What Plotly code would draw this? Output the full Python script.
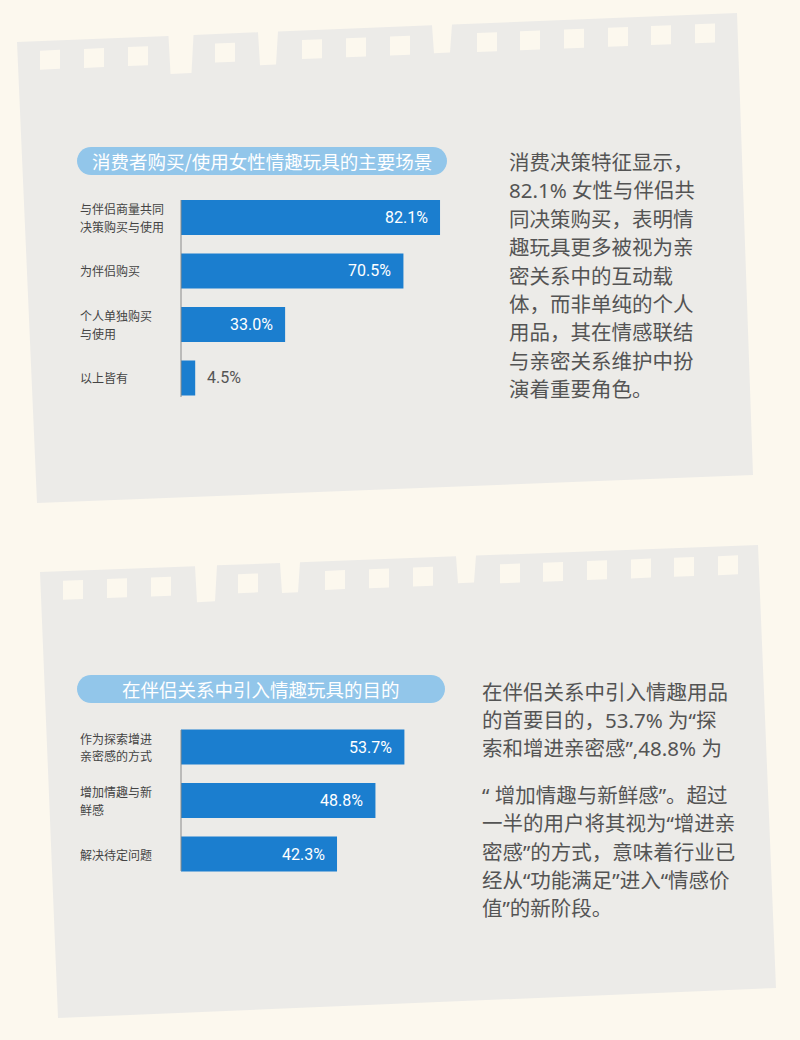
import math
import plotly.graph_objects as go

# ---------------- data ----------------
cats1 = ["与伴侣商量共同决策购买与使用", "为伴侣购买", "个人单独购买与使用", "以上皆有"]
labels1 = ["与伴侣商量共同<br>决策购买与使用", "为伴侣购买", "个人单独购买<br>与使用", "以上皆有"]
vals1 = [82.1, 70.5, 33.0, 4.5]
title1 = "消费者购买/使用女性情趣玩具的主要场景"

cats2 = ["作为探索增进亲密感的方式", "增加情趣与新鲜感", "解决待定问题"]
labels2 = ["作为探索增进<br>亲密感的方式", "增加情趣与新<br>鲜感", "解决待定问题"]
vals2 = [53.7, 48.8, 42.3]
title2 = "在伴侣关系中引入情趣玩具的目的"

para1 = [
    "消费决策特征显示，",
    "82.1% 女性与伴侣共",
    "同决策购买，表明情",
    "趣玩具更多被视为亲",
    "密关系中的互动载",
    "体，而非单纯的个人",
    "用品，其在情感联结",
    "与亲密关系维护中扮",
    "演着重要角色。",
]
para2 = [
    "在伴侣关系中引入情趣用品",
    "的首要目的，53.7% 为“探",
    "索和增进亲密感”,48.8% 为",
    "“ 增加情趣与新鲜感”。超过",
    "一半的用户将其视为“增进亲",
    "密感”的方式，意味着行业已",
    "经从“功能满足”进入“情感价",
    "值”的新阶段。",
]

# ---------------- style ----------------
W, H = 800, 1040
BG = "#FCF8EE"
PAPER = "#ECEBE8"
BAR = "#1B7ECF"
PILL = "#92C6EA"
FONT = "Noto Sans CJK SC"
PFONT = "Noto Sans, Noto Sans CJK SC"
NUMFONT = "Roboto"


def px(x):
    return x / W


def py(y):
    return 1 - y / H


def path(points):
    return "M " + " L ".join(f"{px(x):.5f},{py(y):.5f}" for x, y in points) + " Z"


def paper_shape(tl, tr, br, bl, notches):
    def ytop(x):
        return tl[1] + (tr[1] - tl[1]) * (x - tl[0]) / (tr[0] - tl[0])
    pts = [tl]
    for cx, w, d in notches:
        x0, x1 = cx - w / 2, cx + w / 2
        pts += [(x0, ytop(x0)), (x0 + 2, ytop(x0) + d), (x1 - 2, ytop(x1) + d), (x1, ytop(x1))]
    pts += [tr, br, bl]
    return path(pts), ytop


def pill(x0, x1, y0, y1, n=16):
    r = (y1 - y0) / 2
    cy = (y0 + y1) / 2
    pts = []
    for i in range(n + 1):
        a = -math.pi / 2 + math.pi * i / n
        pts.append((x1 - r + r * math.cos(a), cy + r * math.sin(a)))
    for i in range(n + 1):
        a = math.pi / 2 + math.pi * i / n
        pts.append((x0 + r + r * math.cos(a), cy + r * math.sin(a)))
    return path(pts)


shapes = []

# paper 1
p1, ytop1 = paper_shape((17, 42), (737, 13), (753, 475), (37, 503),
                        [(181, 25, 38), (268, 20, 33), (442, 20, 28)])
shapes.append(dict(type="path", path=p1, xref="paper", yref="paper",
                   fillcolor=PAPER, line=dict(width=0), layer="below"))
for cx in [50, 94, 138, 225, 312, 356, 400, 487, 530, 574, 618, 661, 705]:
    yt = ytop1(cx)
    shapes.append(dict(type="path", path=path([(cx - 10, yt + 10), (cx + 10, yt + 9.2),
                                               (cx + 10, yt + 28.2), (cx - 10, yt + 29)]),
                       xref="paper", yref="paper", fillcolor=BG, line=dict(width=0), layer="below"))

# paper 2
p2, ytop2 = paper_shape((40, 572), (758, 545), (776, 988), (58, 1018),
                        [(206, 22, 36), (290, 20, 30), (466, 20, 27)])
shapes.append(dict(type="path", path=p2, xref="paper", yref="paper",
                   fillcolor=PAPER, line=dict(width=0), layer="below"))
for cx in [73, 117, 161, 248, 335, 379, 423, 510, 553, 597, 641, 684, 728]:
    yt = ytop2(cx)
    shapes.append(dict(type="path", path=path([(cx - 10, yt + 10), (cx + 10, yt + 9.2),
                                               (cx + 10, yt + 28.2), (cx - 10, yt + 29)]),
                       xref="paper", yref="paper", fillcolor=BG, line=dict(width=0), layer="below"))

# title pills
shapes.append(dict(type="path", path=pill(77, 447, 147, 175), xref="paper", yref="paper",
                   fillcolor=PILL, line=dict(width=0), layer="below"))
shapes.append(dict(type="path", path=pill(77, 445, 675, 703), xref="paper", yref="paper",
                   fillcolor=PILL, line=dict(width=0), layer="below"))

# axis lines
shapes.append(dict(type="line", xref="paper", yref="y", x0=px(181), x1=px(181),
                   y0=-0.327, y1=3.355, line=dict(color="#8a8a8a", width=1)))
shapes.append(dict(type="line", xref="paper", yref="y2", x0=px(181), x1=px(181),
                   y0=-0.318, y1=2.318, line=dict(color="#8a8a8a", width=1)))

fig = go.Figure()
fig.add_trace(go.Bar(x=vals1, y=cats1, orientation="h", marker=dict(color=BAR, line=dict(width=0)),
                     width=0.65, xaxis="x", yaxis="y", hoverinfo="skip"))
fig.add_trace(go.Bar(x=vals2, y=cats2, orientation="h", marker=dict(color=BAR, line=dict(width=0)),
                     width=0.65, xaxis="x2", yaxis="y2", hoverinfo="skip"))

annotations = []
# titles
annotations.append(dict(text=title1, xref="paper", yref="paper", x=px(262), y=py(161),
                        xanchor="center", yanchor="middle", showarrow=False,
                        font=dict(family=FONT, size=18.5, color="white")))
annotations.append(dict(text=title2, xref="paper", yref="paper", x=px(261), y=py(689),
                        xanchor="center", yanchor="middle", showarrow=False,
                        font=dict(family=FONT, size=18.5, color="white")))

LABEL_STEP = 17.5
for cats, labels, vals, xa, ya in [(cats1, labels1, vals1, "x", "y"), (cats2, labels2, vals2, "x2", "y2")]:
    for c, lab, v in zip(cats, labels, vals):
        parts = lab.split("<br>")
        n = len(parts)
        for i, part in enumerate(parts):
            annotations.append(dict(text=part, xref="paper", yref=ya, x=px(78), y=c,
                                    yshift=((n - 1) / 2 - i) * LABEL_STEP,
                                    xanchor="left", yanchor="middle", align="left", showarrow=False,
                                    font=dict(family=FONT, size=12, color="#444444")))
        inside = v >= 10
        annotations.append(dict(text=f"{v:.1f}%", xref=xa, yref=ya, x=v, y=c,
                                xanchor="right" if inside else "left",
                                xshift=-10 if inside else 10,
                                yanchor="middle", showarrow=False,
                                font=dict(family=NUMFONT, size=16,
                                          color="white" if inside else "#555555")))

# paragraphs
for i, line in enumerate(para1):
    annotations.append(dict(text=line, xref="paper", yref="paper", x=px(507), y=py(162 + 28.4 * i),
                            xanchor="left", yanchor="middle", showarrow=False,
                            font=dict(family=PFONT, size=20.5, color="#545454")))
ys2 = [692, 720, 748, 795, 823, 852, 880, 908]
for line, yy in zip(para2, ys2):
    annotations.append(dict(text=line, xref="paper", yref="paper", x=px(480), y=py(yy),
                            xanchor="left", yanchor="middle", showarrow=False,
                            font=dict(family=PFONT, size=20.5, color="#545454")))

ax_common = dict(showgrid=False, zeroline=False, showticklabels=False, showline=False, ticks="")
fig.update_layout(
    width=W, height=H, margin=dict(l=0, r=0, t=0, b=0),
    paper_bgcolor=BG, plot_bgcolor="rgba(0,0,0,0)", showlegend=False,
    xaxis=dict(domain=[px(181), px(470)], range=[0, 91.6], anchor="y", fixedrange=True, **ax_common),
    yaxis=dict(domain=[py(404.75), py(190.75)], type="category", range=[3.5, -0.5],
               anchor="x", fixedrange=True, **ax_common),
    xaxis2=dict(domain=[px(181), px(470)], range=[15.9, 64.8], anchor="y2", fixedrange=True, **ax_common),
    yaxis2=dict(domain=[py(880.75), py(720.25)], type="category", range=[2.5, -0.5],
                anchor="x2", fixedrange=True, **ax_common),
    shapes=shapes, annotations=annotations,
)

fig.write_html("out.html", config={"displayModeBar": False},
               post_script="document.body.style.margin='0';document.body.style.overflow='hidden';")
